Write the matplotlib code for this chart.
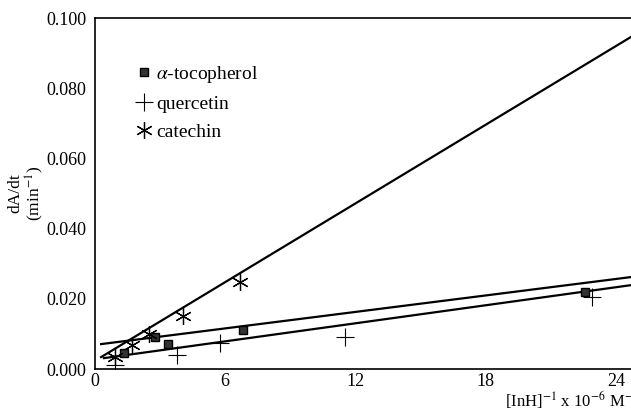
import numpy as np
import matplotlib
matplotlib.use("Agg")
import matplotlib.pyplot as plt
from matplotlib.lines import Line2D

plt.rcParams['font.family'] = ['Liberation Serif', 'DejaVu Serif']
plt.rcParams['mathtext.fontset'] = 'stix'

# data
toco_x = [1.35, 2.75, 3.37, 6.8, 22.6]
toco_y = [0.0045, 0.0091, 0.0071, 0.0111, 0.0220]
quer_x = [0.92, 3.8, 5.75, 11.5, 22.9]
quer_y = [0.0011, 0.0040, 0.0074, 0.0091, 0.0205]
cate_x = [0.92, 1.7, 2.5, 4.05, 6.7]
cate_y = [0.0034, 0.0068, 0.0100, 0.0150, 0.0248]

# fitted lines: (slope, intercept, start x)
toco_fit = (0.000782, 0.00688, 0.28)
quer_fit = (0.000856, 0.00275, 0.41)
cate_fit = (0.003735, 0.00235, 0.28)

x_ticks = [0, 6, 12, 18, 24]
y_ticks = [0.0, 0.02, 0.04, 0.06, 0.08, 0.1]
x_max = 24.7

fig = plt.figure(figsize=(6.31, 4.13), dpi=100)
ax = fig.add_axes([0.1506, 0.1065, 0.8494, 0.8499])

for slope, icpt, x0 in (toco_fit, quer_fit, cate_fit):
    xs = np.array([x0, x_max])
    ax.plot(xs, slope * xs + icpt, color='black', lw=1.6)

ax.plot(toco_x, toco_y, ls='none', marker='s', ms=5.5, mfc='#333333', mec='black')
ax.plot(quer_x, quer_y, ls='none', marker='+', ms=13, mew=0.8, color='black')
ax.plot(cate_x, cate_y, ls='none', marker=(6, 2, 0), ms=12, mew=0.9, color='black')

ax.set_xlim(0, x_max)
ax.set_ylim(0, 0.1)
ax.set_xticks(x_ticks)
ax.set_yticks(y_ticks)
ax.set_yticklabels([f"{v:.3f}" for v in y_ticks])
ax.tick_params(length=0, labelsize=13, pad=6)
ax.tick_params(axis='x', pad=3)
ax.spines['right'].set_visible(False)
for s in ('left', 'bottom', 'top'):
    ax.spines[s].set_linewidth(1.2)

handles = [
    Line2D([], [], ls='none', marker='s', ms=5.5, mfc='#333333', mec='black'),
    Line2D([], [], ls='none', marker='+', ms=13, mew=0.8, color='black'),
    Line2D([], [], ls='none', marker=(6, 2, 0), ms=12, mew=0.9, color='black'),
]
labels = [r'$\alpha$-tocopherol', 'quercetin', 'catechin']
ax.legend(handles, labels, loc='upper left', bbox_to_anchor=(0.045, 0.92),
          frameon=False, fontsize=14, handlelength=0.8, handletextpad=0.2,
          labelspacing=0.55)

fig.text(0.042, 0.533, 'dA/dt\n(min$^{-1}$)', rotation=90, ha='center',
         va='center', fontsize=12.5, linespacing=1.0)
fig.text(0.80, 0.006, r'[InH]$^{-1}$ x 10$^{-6}$ M$^{-1}$', ha='left',
         va='bottom', fontsize=12)

fig.savefig("out.png", dpi=100)
